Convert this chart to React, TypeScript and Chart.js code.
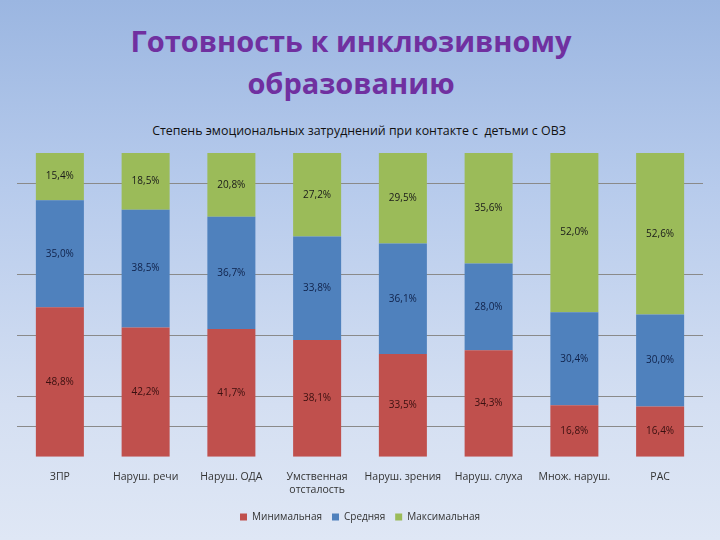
import React, { useEffect, useRef } from "react";
import { Chart, registerables } from "chart.js";

Chart.register(...registerables);

const categories: (string | string[])[] = [
  "ЗПР",
  "Наруш. речи",
  "Наруш. ОДА",
  ["Умственная", "отсталость"],
  "Наруш. зрения",
  "Наруш. слуха",
  "Множ. наруш.",
  "РАС",
];

const seriesNames = ["Минимальная", "Средняя", "Максимальная"];
const minimal = [48.8, 42.2, 41.7, 38.1, 33.5, 34.3, 16.8, 16.4];
const medium = [35.0, 38.5, 36.7, 33.8, 36.1, 28.0, 30.4, 30.0];
const maximal = [15.4, 18.5, 20.8, 27.2, 29.5, 35.6, 52.0, 52.6];
const gridValues = [10, 20, 40, 60, 90];

const seriesColors = ["#C0504D", "#4F81BD", "#9BBB59"];
const labelColors = ["#3a1010", "#10224a", "#1a1a1a"];

const FONT = "'Open Sans', 'Noto Sans', sans-serif";

const fmt = (v: number) => v.toFixed(1).replace(".", ",") + "%";

export default function App() {
  const canvasRef = useRef<HTMLCanvasElement | null>(null);

  useEffect(() => {
    const canvas = canvasRef.current;
    if (!canvas) return;
    const raw = [minimal, medium, maximal];
    const totals = categories.map((_, i) => minimal[i] + medium[i] + maximal[i]);

    const labelPlugin = {
      id: "segLabels",
      afterDatasetsDraw(chart: any) {
        const ctx = chart.ctx;
        ctx.save();
        ctx.font = `10px ${FONT}`;
        ctx.textAlign = "center";
        ctx.textBaseline = "middle";
        chart.data.datasets.forEach((_ds: any, di: number) => {
          const meta = chart.getDatasetMeta(di);
          meta.data.forEach((el: any, i: number) => {
            const p = el.getProps(["x", "y", "base"], true);
            ctx.fillStyle = labelColors[di];
            ctx.fillText(fmt(raw[di][i]), p.x, (p.y + p.base) / 2);
          });
        });
        ctx.restore();
      },
    };

    const chart = new Chart(canvas, {
      type: "bar",
      data: {
        labels: categories,
        datasets: raw.map((arr, di) => ({
          label: seriesNames[di],
          data: arr.map((v, i) => (v / totals[i]) * 100),
          backgroundColor: seriesColors[di],
          borderWidth: 0,
          barPercentage: 0.56,
          categoryPercentage: 1,
        })),
      },
      options: {
        responsive: false,
        animation: false,
        devicePixelRatio: 1,
        layout: { padding: { left: 17, right: 17, top: 153, bottom: 8 } },
        plugins: {
          title: { display: false },
          tooltip: { enabled: false },
          legend: {
            display: true,
            position: "bottom",
            labels: {
              boxWidth: 7,
              boxHeight: 7,
              color: "#333",
              font: { family: FONT, size: 10 },
              padding: 10,
            },
          },
        },
        scales: {
          x: {
            stacked: true,
            grid: { display: false },
            border: { display: false },
            ticks: {
              color: "#333",
              font: { family: FONT, size: 10.5 },
              maxRotation: 0,
              autoSkip: false,
              padding: 6,
            },
          },
          y: {
            stacked: true,
            min: 0,
            max: 100,
            afterBuildTicks: (axis: any) => {
              axis.ticks = gridValues.map((v) => ({ value: v }));
            },
            ticks: { display: false },
            grid: { color: "#8a8a8a", lineWidth: 1, drawTicks: false },
            border: { display: false },
          },
        },
      },
      plugins: [labelPlugin],
    } as any);
    return () => chart.destroy();
  }, []);

  return (
    <div
      style={{
        position: "fixed",
        left: 0,
        top: 0,
        width: 720,
        height: 540,
        background: "linear-gradient(to bottom, #9bb6e1 0%, #b7cbec 35%, #d4dff2 75%, #dfe7f5 100%)",
        overflow: "hidden",
      }}
    >
      <div
        style={{
          position: "absolute",
          left: 0,
          top: 20,
          width: 702,
          textAlign: "center",
          fontFamily: FONT,
          fontWeight: 700,
          fontSize: 29,
          lineHeight: "42px",
          color: "#7030A0",
        }}
      >
        Готовность к инклюзивному
        <br />
        образованию
      </div>
      <div
        style={{
          position: "absolute",
          left: 0,
          top: 124,
          width: 718,
          textAlign: "center",
          fontFamily: FONT,
          fontSize: 12.4,
          lineHeight: "14px",
          color: "#111",
        }}
      >
        Степень эмоциональных затруднений при контакте с&nbsp; детьми с ОВЗ
      </div>
      <canvas
        ref={canvasRef}
        width={720}
        height={540}
        style={{ position: "absolute", left: 0, top: 0 }}
      />
    </div>
  );
}
